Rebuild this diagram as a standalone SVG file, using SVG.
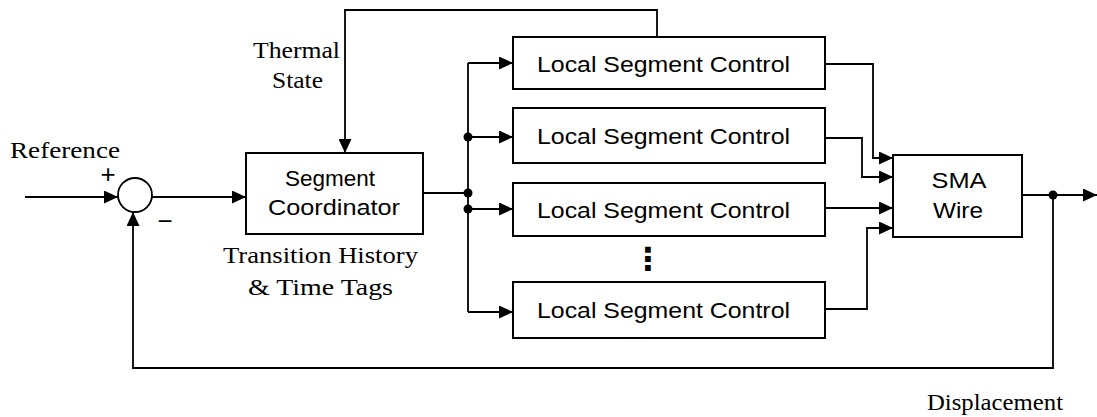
<svg xmlns="http://www.w3.org/2000/svg" width="1097" height="417" viewBox="0 0 1097 417">
  <defs>
    <marker id="arrow" viewBox="0 0 14 13" refX="14" refY="6.5" markerWidth="14" markerHeight="13" markerUnits="userSpaceOnUse" orient="auto">
      <path d="M0,0 L14,6.5 L0,13 z" fill="#000"/>
    </marker>
    <style>
      .box { fill: #fff; stroke: #000; stroke-width: 2; }
      .wire { fill: none; stroke: #000; stroke-width: 1.8; }
      .arr { marker-end: url(#arrow); }
      .dot { fill: #000; }
      .sans { font-family: "Liberation Sans", Arial, sans-serif; font-size: 22px; fill: #000; }
      .serif { font-family: "Liberation Serif", "Times New Roman", serif; font-size: 24px; fill: #000; }
      .sign { font-family: "Liberation Sans", Arial, sans-serif; font-size: 26px; fill: #000; text-anchor: middle; }
      .vdots { font-family: "DejaVu Sans", sans-serif; font-size: 32px; font-weight: bold; fill: #000; text-anchor: middle; }
    </style>
  </defs>
  <rect width="1097" height="417" fill="#fff"/>

  <!-- connectors -->
  <g id="connectors">
    <path class="wire arr" d="M25,197 H118"/>
    <path class="wire arr" d="M152,197 H246"/>
    <path class="wire" d="M423,193 H468"/>
    <path class="wire" d="M468,63 V312"/>
    <path class="wire arr" d="M468,63 H513"/>
    <path class="wire arr" d="M468,137 H513"/>
    <path class="wire arr" d="M468,209 H513"/>
    <path class="wire arr" d="M468,312 H513"/>
    <circle class="dot" cx="468" cy="137" r="4.5"/>
    <circle class="dot" cx="468" cy="193" r="4.5"/>
    <circle class="dot" cx="468" cy="209" r="4.5"/>
    <!-- thermal state feedback -->
    <path class="wire arr" d="M657,37 V10 H345 V153"/>
    <!-- local controls to SMA wire -->
    <path class="wire arr" d="M825,64 H873 V158 H893"/>
    <path class="wire arr" d="M825,138 H862 V177 H893"/>
    <path class="wire arr" d="M825,208 H893"/>
    <path class="wire arr" d="M825,309 H867 V228 H893"/>
    <!-- output and displacement feedback -->
    <path class="wire arr" d="M1022,195 H1097"/>
    <circle class="dot" cx="1053" cy="195" r="4.5"/>
    <path class="wire arr" d="M1053,195 V368 H133 V212"/>
  </g>

  <!-- summing junction -->
  <g id="sum">
    <circle cx="135" cy="195" r="17" fill="#fff" stroke="#000" stroke-width="1.8"/>
    <text class="sign" x="108" y="183">+</text>
    <text class="sign" x="165" y="230">−</text>
  </g>

  <g id="reference-label">
    <text class="serif" x="10" y="158" textLength="110" lengthAdjust="spacingAndGlyphs">Reference</text>
  </g>

  <g id="thermal-label">
    <text class="serif" x="253" y="58" textLength="87" lengthAdjust="spacingAndGlyphs">Thermal</text>
    <text class="serif" x="272" y="88" textLength="51" lengthAdjust="spacingAndGlyphs">State</text>
  </g>

  <g id="coordinator">
    <rect class="box" x="246" y="153" width="177" height="81"/>
    <text class="sans" x="285" y="186" textLength="90" lengthAdjust="spacingAndGlyphs">Segment</text>
    <text class="sans" x="268" y="215" textLength="132" lengthAdjust="spacingAndGlyphs">Coordinator</text>
    <text class="serif" x="223" y="263" textLength="195" lengthAdjust="spacingAndGlyphs">Transition History</text>
    <text class="serif" x="248" y="295" textLength="145" lengthAdjust="spacingAndGlyphs">&amp; Time Tags</text>
  </g>

  <g id="local-1">
    <rect class="box" x="513" y="37" width="312" height="52"/>
    <text class="sans" x="537" y="72" textLength="253" lengthAdjust="spacingAndGlyphs">Local Segment Control</text>
  </g>
  <g id="local-2">
    <rect class="box" x="513" y="108" width="312" height="55"/>
    <text class="sans" x="537" y="144" textLength="253" lengthAdjust="spacingAndGlyphs">Local Segment Control</text>
  </g>
  <g id="local-3">
    <rect class="box" x="513" y="183" width="312" height="53"/>
    <text class="sans" x="537" y="218" textLength="253" lengthAdjust="spacingAndGlyphs">Local Segment Control</text>
  </g>
  <g id="ellipsis">
    <text class="vdots" x="648" y="270">⋮</text>
  </g>
  <g id="local-n">
    <rect class="box" x="513" y="282" width="312" height="56"/>
    <text class="sans" x="537" y="318" textLength="253" lengthAdjust="spacingAndGlyphs">Local Segment Control</text>
  </g>

  <g id="sma-wire">
    <rect class="box" x="893" y="155" width="129" height="82"/>
    <text class="sans" x="959" y="188" text-anchor="middle" textLength="55" lengthAdjust="spacingAndGlyphs">SMA</text>
    <text class="sans" x="958" y="218" text-anchor="middle" textLength="50" lengthAdjust="spacingAndGlyphs">Wire</text>
  </g>

  <g id="displacement-label">
    <text class="serif" x="927" y="410" textLength="136" lengthAdjust="spacingAndGlyphs">Displacement</text>
  </g>
</svg>
